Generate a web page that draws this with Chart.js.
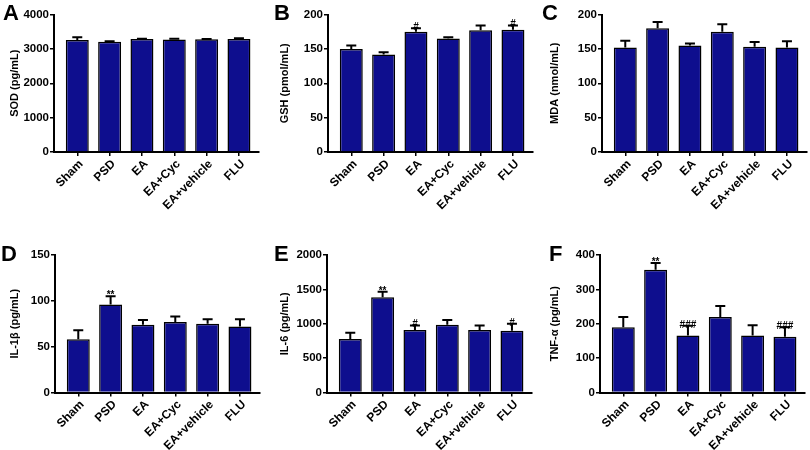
<!DOCTYPE html>
<html>
<head>
<meta charset="utf-8">
<script src="https://cdn.jsdelivr.net/npm/chart.js@4/dist/chart.umd.min.js"></script>
<style>
  body { margin: 0; background: #fff; }
  #wrap { position: relative; width: 810px; height: 450px; overflow: hidden; }
  .cell { position: absolute; width: 270px; height: 225px; }
  .letter { position: absolute; font: bold 22px "Liberation Sans", Arial, sans-serif; line-height: 22px; color: #000; }
</style>
</head>
<body>
<div id="wrap">
  <div class="cell" style="left:0;top:0"><canvas id="sod"></canvas></div>
  <div class="cell" style="left:270px;top:0"><canvas id="gsh"></canvas></div>
  <div class="cell" style="left:540px;top:0"><canvas id="mda"></canvas></div>
  <div class="cell" style="left:0;top:225px"><canvas id="il1b"></canvas></div>
  <div class="cell" style="left:270px;top:225px"><canvas id="il6"></canvas></div>
  <div class="cell" style="left:540px;top:225px"><canvas id="tnf"></canvas></div>
  <div class="letter" style="left:3px;top:2px">A</div>
  <div class="letter" style="left:274px;top:2px">B</div>
  <div class="letter" style="left:542px;top:2px">C</div>
  <div class="letter" style="left:1px;top:243px">D</div>
  <div class="letter" style="left:274px;top:243px">E</div>
  <div class="letter" style="left:549px;top:243px">F</div>
</div>
<script>
// groups
var groups = ['Sham', 'PSD', 'EA', 'EA+Cyc', 'EA+vehicle', 'FLU'];

// means, upper error (SEM) and significance marks
var sodMean = [3260, 3210, 3285, 3275, 3280, 3285];
var sodErr = [75, 15, 10, 20, 10, 25];
var sodSig = ['', '', '', '', '', ''];

var gshMean = [150, 142, 175, 165, 177, 178];
var gshErr = [5, 3, 5, 2, 7, 6];
var gshSig = ['', '', '#', '', '', '#'];

var mdaMean = [152, 180, 155, 175, 153, 152];
var mdaErr = [10, 9, 3, 11, 7, 9];
var mdaSig = ['', '', '', '', '', ''];

var il1bMean = [58, 96, 74, 77, 75, 72];
var il1bErr = [10, 9, 5, 6, 5, 8];
var il1bSig = ['', '**', '', '', '', ''];

var il6Mean = [780, 1385, 910, 985, 910, 900];
var il6Err = [90, 80, 65, 70, 65, 100];
var il6Sig = ['', '**', '#', '', '', '#'];

var tnfMean = [190, 357, 166, 220, 166, 162];
var tnfErr = [30, 20, 28, 32, 30, 28];
var tnfSig = ['', '**', '###', '', '', '###'];

var barColor = '#0e0e8e';
var fontFam = '"Liberation Sans", Arial, sans-serif';

// error bars (upper only) + significance text
var errPlugin = {
  id: 'errbars',
  afterDatasetsDraw: function(chart, args, opts) {
    var ctx = chart.ctx;
    var xs = chart.scales.x, ys = chart.scales.y;
    ctx.save();
    ctx.strokeStyle = '#000';
    ctx.fillStyle = '#000';
    ctx.lineWidth = 2;
    for (var i = 0; i < opts.mean.length; i++) {
      var x = xs.getPixelForValue(i);
      var y0 = ys.getPixelForValue(opts.mean[i]);
      var y1 = ys.getPixelForValue(opts.mean[i] + opts.err[i]);
      ctx.beginPath();
      ctx.moveTo(x, y0);
      ctx.lineTo(x, y1);
      ctx.moveTo(x - 5, y1);
      ctx.lineTo(x + 5, y1);
      ctx.stroke();
      if (opts.sig[i]) {
        ctx.font = 'bold 10px ' + fontFam;
        ctx.textAlign = 'center';
        ctx.textBaseline = 'bottom';
        ctx.fillText(opts.sig[i], x, y1 + 4);
      }
    }
    ctx.restore();
  }
};

function makePanel(id, mean, err, sig, yMax, yStep, yTitle, yWidth, padTop, padRight, xHeight) {
  var pts = mean.map(function(v, i) { return {x: i, y: v}; });
  new Chart(document.getElementById(id), {
    type: 'bar',
    data: {
      datasets: [{
        data: pts,
        backgroundColor: barColor,
        borderColor: '#000',
        borderWidth: 1.5,
        barPercentage: 0.71,
        categoryPercentage: 1
      }]
    },
    plugins: [errPlugin],
    options: {
      responsive: true,
      maintainAspectRatio: false,
      animation: false,
      layout: { padding: { top: padTop, right: padRight, left: 0, bottom: 0 } },
      plugins: {
        legend: { display: false },
        tooltip: { enabled: false },
        errbars: { mean: mean, err: err, sig: sig }
      },
      scales: {
        x: {
          type: 'linear',
          min: -0.72,
          max: 5.62,
          offset: false,
          afterBuildTicks: function(s) {
            s.ticks = groups.map(function(g, i) { return {value: i}; });
          },
          afterFit: function(s) { s.height = xHeight; },
          grid: { display: true, drawOnChartArea: false, drawTicks: true, tickLength: 4, color: '#000', lineWidth: 1.5, offset: false },
          border: { display: true, color: '#000', width: 2 },
          ticks: {
            autoSkip: false,
            minRotation: 45,
            maxRotation: 45,
            padding: 1,
            labelOffset: 4,
            color: '#000',
            font: { family: fontFam, size: 12, weight: 'bold' },
            callback: function(v) { return groups[v]; }
          }
        },
        y: {
          min: 0,
          max: yMax,
          afterFit: function(s) { s.width = yWidth; },
          grid: { display: true, drawOnChartArea: false, drawTicks: true, tickLength: 4, color: '#000', lineWidth: 1.5 },
          border: { display: true, color: '#000', width: 2 },
          ticks: {
            stepSize: yStep,
            padding: 1,
            color: '#000',
            font: { family: fontFam, size: 11.5, weight: 'bold' },
            callback: function(v) { return String(v); }
          },
          title: {
            display: true,
            text: yTitle,
            color: '#000',
            padding: { top: 8, bottom: 0 },
            font: { family: fontFam, size: 11, weight: 'bold' }
          }
        }
      }
    }
  });
}

makePanel('sod', sodMean, sodErr, sodSig, 4000, 1000, 'SOD (pg/mL)', 54, 14.5, 11, 73);
makePanel('gsh', gshMean, gshErr, gshSig, 200, 50, 'GSH (pmol/mL)', 58, 14.5, 7, 73);
makePanel('mda', mdaMean, mdaErr, mdaSig, 200, 50, 'MDA (nmol/mL)', 62, 14.5, 3, 73);
makePanel('il1b', il1bMean, il1bErr, il1bSig, 150, 50, 'IL-1β (pg/mL)', 55, 30, 10, 57.5);
makePanel('il6', il6Mean, il6Err, il6Sig, 2000, 500, 'IL-6 (pg/mL)', 57, 30, 8, 57.5);
makePanel('tnf', tnfMean, tnfErr, tnfSig, 400, 100, 'TNF-α (pg/mL)', 60, 30, 5, 57.5);
</script>
</body>
</html>
